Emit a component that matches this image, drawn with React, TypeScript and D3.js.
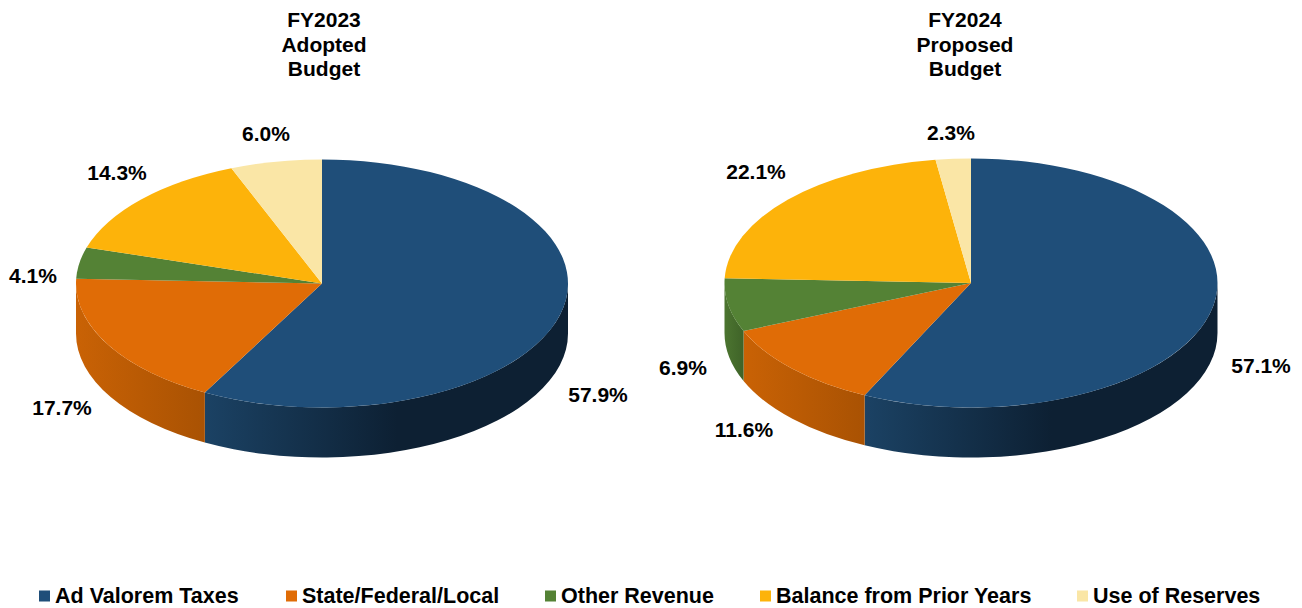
import * as d3 from "d3";

const categories = ["Ad Valorem Taxes", "State/Federal/Local", "Other Revenue", "Balance from Prior Years", "Use of Reserves"];
const fy2023Values = [57.9, 17.7, 4.1, 14.3, 6.0];
const fy2024Values = [57.1, 11.6, 6.9, 22.1, 2.3];
const fy2023Title = ["FY2023", "Adopted", "Budget"];
const fy2024Title = ["FY2024", "Proposed", "Budget"];

const topColors = ["#1f4e79", "#e06c06", "#548235", "#fdb30a", "#fae6a6"];
const wallLeft = ["#1b4264", "#c96205", "#4c7530", "#d99a08", "#d8c68e"];
const wallRight = ["#0d2033", "#a95203", "#3f6328", "#b88206", "#b8a877"];

const font = "'Liberation Sans', Arial, sans-serif";
const depth = 50;

// label centres in svg px, by slice
const labels2023 = [[598, 394], [62, 407], [33, 275], [117, 172], [266, 133]];
const labels2024 = [[1261, 365], [744, 429], [683, 367], [756, 171], [951, 132]];

function wallPath(a0: number, a1: number, cx: number, cy: number, rx: number, ry: number) {
  const px = (a: number) => cx + rx * Math.sin(a);
  const py = (a: number) => cy - ry * Math.cos(a);
  const large = a1 - a0 > Math.PI ? 1 : 0;
  return [
    `M${px(a0)},${py(a0)}`,
    `A${rx},${ry} 0 ${large} 1 ${px(a1)},${py(a1)}`,
    `L${px(a1)},${py(a1) + depth}`,
    `A${rx},${ry} 0 ${large} 0 ${px(a0)},${py(a0) + depth}`,
    "Z",
  ].join(" ");
}

function Pie3D({ id, values, title, cx, cy, rx, ry, titleX, labels }: {
  id: string; values: number[]; title: string[]; cx: number; cy: number; rx: number; ry: number; titleX: number; labels: number[][];
}) {
  const slices = d3.pie<number>().sort(null)(values);
  const arc = d3.arc<d3.PieArcDatum<number>>().innerRadius(0).outerRadius(rx);
  const front = slices
    .map((s, i) => ({ i, a0: Math.max(s.startAngle, Math.PI / 2), a1: Math.min(s.endAngle, (3 * Math.PI) / 2) }))
    .filter((d) => d.a1 > d.a0);

  return (
    <g>
      {title.map((t, i) => (
        <text key={t} x={titleX} y={27 + i * 24.5} textAnchor="middle" fontSize={21} fontWeight={700} fill="#000">{t}</text>
      ))}
      <defs>
        {front.map((d) => {
          const x0 = cx + rx * Math.sin(d.a1);
          const x1 = cx + rx * Math.sin(d.a0);
          return (
            <linearGradient key={d.i} id={`${id}-wall-${d.i}`} gradientUnits="userSpaceOnUse" x1={x0} x2={x1} y1={0} y2={0}>
              <stop offset="0" stopColor={wallLeft[d.i]} />
              <stop offset={d.i === 0 ? "0.53" : "1"} stopColor={wallRight[d.i]} />
              <stop offset="1" stopColor={wallRight[d.i]} />
            </linearGradient>
          );
        })}
      </defs>
      {front.map((d) => (
        <path key={d.i} d={wallPath(d.a0, d.a1, cx, cy, rx, ry)} fill={`url(#${id}-wall-${d.i})`} />
      ))}
      <g transform={`translate(${cx},${cy}) scale(1,${ry / rx})`}>
        {slices.map((s, i) => (
          <path key={i} d={arc(s) ?? ""} fill={topColors[i]} />
        ))}
      </g>
      {labels.map((p, i) => (
        <text key={i} x={p[0]} y={p[1]} textAnchor="middle" dominantBaseline="central" fontSize={21} fontWeight={700} fill="#000">
          {values[i].toFixed(1)}%
        </text>
      ))}
    </g>
  );
}

const legendSwatchX = [39, 286, 545, 760, 1077];

export default function App() {
  return (
    <svg
      width={1302}
      height={608}
      style={{ position: "absolute", left: 0, top: 0, background: "#fff" }}
      fontFamily={font}
    >
      <Pie3D id="a" values={fy2023Values} title={fy2023Title} cx={322} cy={283.5} rx={246} ry={124} titleX={324} labels={labels2023} />
      <Pie3D id="b" values={fy2024Values} title={fy2024Title} cx={971} cy={283} rx={246.5} ry={124.5} titleX={965} labels={labels2024} />
      {categories.map((c, i) => (
        <g key={c}>
          <rect x={legendSwatchX[i]} y={590.5} width={11} height={11} fill={topColors[i]} />
          <text x={legendSwatchX[i] + 16} y={603} fontSize={21.5} fontWeight={700} fill="#000">{c}</text>
        </g>
      ))}
    </svg>
  );
}
